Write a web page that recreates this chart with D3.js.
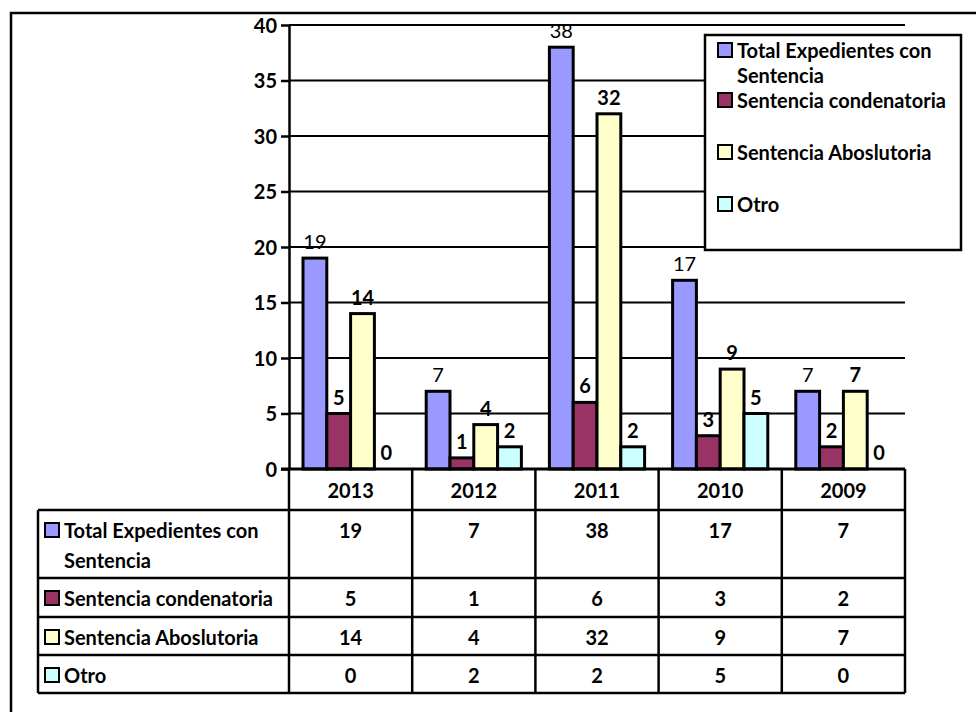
<!DOCTYPE html>
<html>
<head>
<meta charset="utf-8">
<script src="https://cdn.jsdelivr.net/npm/d3@7"></script>
<style>
  body { margin: 0; background: #fff; }
  text { font-family: Lato, 'Open Sans', sans-serif; font-weight: bold; font-size: 20px; fill: #000; }
</style>
</head>
<body>
<svg id="chart"></svg>
<script>
var categories = ['2013', '2012', '2011', '2010', '2009'];
var seriesNames = ['Total Expedientes con Sentencia', 'Sentencia condenatoria', 'Sentencia Aboslutoria', 'Otro'];
var seriesColors = ['#9999ff', '#993366', '#ffffcc', '#ccffff'];
var totalExpedientes = [19, 7, 38, 17, 7];
var condenatoria = [5, 1, 6, 3, 2];
var absolutoria = [14, 4, 32, 9, 7];
var otro = [0, 2, 2, 5, 0];
var yTicks = [0, 5, 10, 15, 20, 25, 30, 35, 40];

var seriesValues = [totalExpedientes, condenatoria, absolutoria, otro];

var width = 976,
  height = 712;

var plot = { left: 289, right: 905, top: 25, bottom: 469 };

var svg = d3.select('#chart')
  .attr('width', width)
  .attr('height', height);

svg.append('rect')
  .attr('width', width)
  .attr('height', height)
  .attr('fill', '#fff');

// outer frame (runs off the right and bottom)
svg.append('path')
  .attr('d', 'M11,' + (height + 5) + 'V13H' + (width + 5))
  .attr('fill', 'none')
  .attr('stroke', '#000')
  .attr('stroke-width', 2.5);

var x0 = d3.scaleBand()
  .domain(categories)
  .range([plot.left, plot.right]);

var gap = 14;
var x1 = d3.scaleBand()
  .domain(d3.range(seriesNames.length))
  .range([gap, x0.bandwidth() - gap]);

var y = d3.scaleLinear()
  .domain([0, 40])
  .range([plot.bottom, plot.top]);

// gridlines
svg.append('g')
  .selectAll('line')
  .data(yTicks.filter(function(d) { return d > 0; }))
  .enter().append('line')
  .attr('x1', plot.left)
  .attr('x2', plot.right)
  .attr('y1', function(d) { return y(d); })
  .attr('y2', function(d) { return y(d); })
  .attr('stroke', '#000')
  .attr('stroke-width', 2);

// y axis
var yAxis = svg.append('g')
  .attr('transform', 'translate(' + plot.left + ',0)')
  .call(d3.axisLeft(y).tickValues(yTicks).tickSize(8).tickPadding(4).tickSizeOuter(0));
yAxis.selectAll('line, path').attr('stroke', '#000').attr('stroke-width', 2.5);
yAxis.selectAll('text')
  .attr('font-size', null)
  .attr('font-family', null)
  .attr('dy', '0.36em');

// bars
var groups = svg.append('g')
  .selectAll('g')
  .data(categories)
  .enter().append('g')
  .attr('transform', function(d) { return 'translate(' + x0(d) + ',0)'; });

var barData = function(c, ci) {
  return seriesValues.map(function(vals, si) { return { s: si, v: vals[ci] }; });
};

groups.selectAll('rect')
  .data(barData)
  .enter().append('rect')
  .attr('x', function(d) { return x1(d.s); })
  .attr('width', x1.bandwidth())
  .attr('y', function(d) { return y(d.v); })
  .attr('height', function(d) { return y(0) - y(d.v); })
  .attr('fill', function(d) { return seriesColors[d.s]; })
  .attr('stroke', '#000')
  .attr('stroke-width', function(d) { return d.v > 0 ? 3 : 0; });

groups.selectAll('text')
  .data(barData)
  .enter().append('text')
  .attr('x', function(d) { return x1(d.s) + x1.bandwidth() / 2; })
  .attr('y', function(d) { return y(d.v) - 9; })
  .attr('text-anchor', 'middle')
  .style('font-weight', function(d) { return d.s === 0 ? 'normal' : 'bold'; })
  .text(function(d) { return d.v; });

// x axis baseline
svg.append('line')
  .attr('x1', plot.left - 8)
  .attr('x2', plot.right)
  .attr('y1', plot.bottom)
  .attr('y2', plot.bottom)
  .attr('stroke', '#000')
  .attr('stroke-width', 3);

// data table
var tableLeft = 38;
var rowEdges = [plot.bottom, 510, 578, 617, 655, 693];
var colEdges = [plot.left].concat(categories.map(function(c) { return x0(c) + x0.bandwidth(); }));
var table = svg.append('g')
  .attr('stroke', '#000')
  .attr('stroke-width', 2.5);

rowEdges.slice(1).forEach(function(ry) {
  table.append('line')
    .attr('x1', tableLeft).attr('x2', plot.right)
    .attr('y1', ry).attr('y2', ry);
});
colEdges.forEach(function(cx) {
  table.append('line')
    .attr('x1', cx).attr('x2', cx)
    .attr('y1', plot.bottom).attr('y2', rowEdges[rowEdges.length - 1]);
});
table.append('line')
  .attr('x1', tableLeft).attr('x2', tableLeft)
  .attr('y1', rowEdges[1]).attr('y2', rowEdges[rowEdges.length - 1]);

svg.append('g')
  .selectAll('text')
  .data(categories)
  .enter().append('text')
  .attr('x', function(d) { return x0(d) + x0.bandwidth() / 2; })
  .attr('y', plot.bottom + 29)
  .attr('text-anchor', 'middle')
  .text(function(d) { return d; });

function wrapLabel(s) {
  if (s.length < 24) { return [s]; }
  var i = s.lastIndexOf(' ');
  return [s.slice(0, i), s.slice(i + 1)];
}

function swatch(g, x, yTop, color) {
  g.append('rect')
    .attr('x', x).attr('y', yTop)
    .attr('width', 14).attr('height', 14)
    .attr('fill', color)
    .attr('stroke', '#000')
    .attr('stroke-width', 2);
}

seriesNames.forEach(function(name, si) {
  var top = rowEdges[si + 1];
  var base = top + 28;
  var lines = wrapLabel(name);
  var g = svg.append('g');
  swatch(g, 45, base - 15, seriesColors[si]);
  lines.forEach(function(line, li) {
    g.append('text')
      .attr('x', 64)
      .attr('y', base + li * 30)
      .text(line);
  });
  categories.forEach(function(c, ci) {
    g.append('text')
      .attr('x', x0(c) + x0.bandwidth() / 2)
      .attr('y', base)
      .attr('text-anchor', 'middle')
      .text(seriesValues[si][ci]);
  });
});

// legend
var legend = svg.append('g');
legend.append('rect')
  .attr('x', 705).attr('y', 35)
  .attr('width', 256).attr('height', 215)
  .attr('fill', '#fff')
  .attr('stroke', '#000')
  .attr('stroke-width', 2.5);

var legendBase = [58, 108, 160, 212];
seriesNames.forEach(function(name, si) {
  var base = legendBase[si];
  swatch(legend, 718, base - 15, seriesColors[si]);
  wrapLabel(name).forEach(function(line, li) {
    legend.append('text')
      .attr('x', 737)
      .attr('y', base + li * 25)
      .text(line);
  });
});
</script>
</body>
</html>
